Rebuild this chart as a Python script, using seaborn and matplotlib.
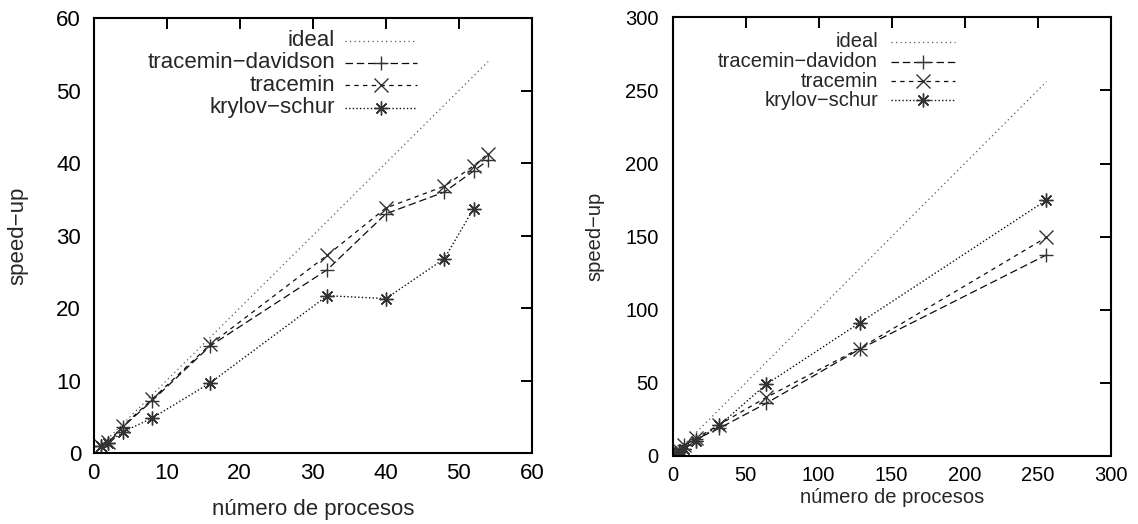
import matplotlib
matplotlib.use("Agg")
import matplotlib.pyplot as plt
import seaborn as sns

sns.set_style("white")
plt.rcParams["font.family"] = ["Liberation Sans", "DejaVu Sans"]

# ---- left panel: speed-up up to 54 processes ----
procs_a = [1, 2, 4, 8, 16, 32, 40, 48, 52, 54]
ideal_a = [1, 2, 4, 8, 16, 32, 40, 48, 52, 54]
davidson_a = [1.0, 1.4, 3.6, 7.2, 14.8, 25.3, 33.0, 36.0, 38.9, 40.4]
tracemin_a = [1.0, 1.5, 3.7, 7.4, 15.0, 27.3, 33.8, 36.8, 39.6, 41.3]
krylov_procs_a = [1, 2, 4, 8, 16, 32, 40, 48, 52]
krylov_a = [1.0, 1.4, 2.9, 4.8, 9.7, 21.7, 21.3, 26.8, 33.7]
ticks_a = [0, 10, 20, 30, 40, 50, 60]
labels_a = ["ideal", "tracemin\u2212davidson", "tracemin", "krylov\u2212schur"]

# ---- right panel: speed-up up to 256 processes ----
procs_b = [1, 2, 4, 8, 16, 32, 64, 128, 256]
ideal_b = [1, 2, 4, 8, 16, 32, 64, 128, 256]
davidson_b = [1.0, 1.9, 3.7, 7.2, 11.5, 19.0, 36.0, 73.0, 137.5]
tracemin_b = [1.0, 1.9, 3.8, 7.4, 12.0, 21.5, 40.0, 73.5, 149.5]
krylov_b = [1.0, 1.6, 3.0, 5.0, 10.5, 21.0, 49.0, 91.0, 175.0]
ticks_b = [0, 50, 100, 150, 200, 250, 300]
labels_b = ["ideal", "tracemin\u2212davidon", "tracemin", "krylov\u2212schur"]

xlabel = "número de procesos"
ylabel = "speed\u2212up"

STAR = (8, 2, 0)
styles = [
    dict(linestyle=(0, (1, 2.6)), color="0.35", lw=0.9, marker=None),
    dict(linestyle=(0, (6, 3)), color="0.05", lw=0.9, marker="+"),
    dict(linestyle=(0, (3.5, 3.5)), color="0.05", lw=0.9, marker="x"),
    dict(linestyle=(0, (1, 1.6)), color="0.05", lw=1.0, marker=STAR),
]
MS = 10
MEW = 1.0
MCOL = "0.2"


def draw_series(ax, xs, ys, st):
    kw = dict(color=st["color"], linestyle=st["linestyle"], lw=st["lw"])
    if st["marker"] is not None:
        kw.update(marker=st["marker"], markersize=MS,
                  markeredgewidth=MEW, markeredgecolor=MCOL,
                  markerfacecolor="none")
    sns.lineplot(x=xs, y=ys, ax=ax, sort=False, estimator=None, **kw)


def draw_key(ax, labels, x_text, x0, x1, ys, fs):
    for label, st, y in zip(labels, styles, ys):
        ax.text(x_text, y, label, transform=ax.transAxes, ha="right",
                va="center", fontsize=fs)
        ax.plot([x0, x1], [y, y], transform=ax.transAxes, clip_on=False,
                color=st["color"], linestyle=st["linestyle"], lw=st["lw"])
        if st["marker"] is not None:
            ax.plot([(x0 + x1) / 2], [y], transform=ax.transAxes,
                    clip_on=False, linestyle="none", marker=st["marker"],
                    markersize=MS, markeredgewidth=MEW,
                    markeredgecolor=MCOL, markerfacecolor="none")


def style_axes(ax, ticks, fs, xpad, ypad):
    ax.set_xlim(ticks[0], ticks[-1])
    ax.set_ylim(ticks[0], ticks[-1])
    ax.set_xticks(ticks)
    ax.set_yticks(ticks)
    ax.set_xticklabels([str(t) for t in ticks])
    ax.set_yticklabels([str(t) for t in ticks])
    for s in ax.spines.values():
        s.set_visible(True)
        s.set_linewidth(1.5)
        s.set_color("black")
    ax.tick_params(direction="in", length=8, width=1.4, top=True, right=True,
                   labelsize=fs, colors="black")
    ax.tick_params(axis="x", pad=xpad)
    ax.tick_params(axis="y", pad=ypad)
    ax.grid(False)


fig = plt.figure(figsize=(11.38, 5.24), dpi=100)

# left
ax1 = fig.add_axes([0.0822, 0.1355, 0.3853, 0.830])
draw_series(ax1, procs_a, ideal_a, styles[0])
draw_series(ax1, procs_a, davidson_a, styles[1])
draw_series(ax1, procs_a, tracemin_a, styles[2])
draw_series(ax1, krylov_procs_a, krylov_a, styles[3])
style_axes(ax1, ticks_a, 16, 7, 9)
ax1.set_xlabel(xlabel, fontsize=16, va="center")
ax1.set_ylabel(ylabel, fontsize=16, va="center")
ax1.xaxis.set_label_coords(0.5, -0.131)
ax1.yaxis.set_label_coords(-0.173, 0.5)
draw_key(ax1, labels_a, 0.551, 0.574, 0.737, [0.948, 0.897, 0.846, 0.794], 16)

# right
ax2 = fig.add_axes([0.5911, 0.1298, 0.3849, 0.8372])
draw_series(ax2, procs_b, ideal_b, styles[0])
draw_series(ax2, procs_b, davidson_b, styles[1])
draw_series(ax2, procs_b, tracemin_b, styles[2])
draw_series(ax2, procs_b, krylov_b, styles[3])
style_axes(ax2, ticks_b, 14.5, 7, 10)
ax2.set_xlabel(xlabel, fontsize=14.5, va="center")
ax2.set_ylabel(ylabel, fontsize=14.5, va="center")
ax2.xaxis.set_label_coords(0.5, -0.0935)
ax2.yaxis.set_label_coords(-0.177, 0.5)
draw_key(ax2, labels_b, 0.469, 0.499, 0.645, [0.944, 0.899, 0.854, 0.811], 14.5)

fig.savefig("out.png", dpi=100)
